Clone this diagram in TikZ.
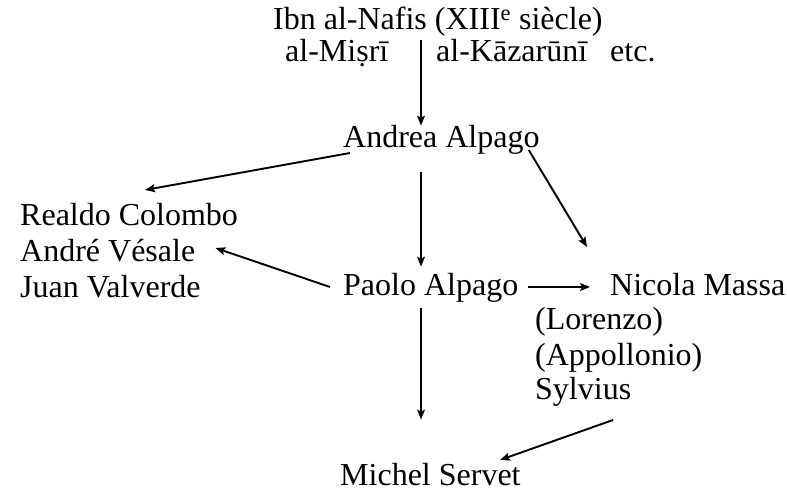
\documentclass[tikz,border=0pt]{standalone}
\usepackage{fontspec}
\setmainfont{Liberation Serif}
\usetikzlibrary{arrows.meta}

\begin{document}
\begin{tikzpicture}[x=1pt, y=1pt,
  who/.style  = {anchor=base west, inner sep=0pt, font=\fontsize{32}{38}\selectfont},
  arr/.style  = {-{Stealth[length=10pt, width=8pt, inset=2pt]}, line width=1.2pt},
  arrb/.style = {-{Stealth[length=10pt, width=8pt, inset=2pt]}, line width=1.9pt},
]
  \useasboundingbox (0,0) rectangle (787,492);

  \node[who] (nafis)      at (273,462) {Ibn al-Nafis (XIII\textsuperscript{e} siècle)};
  \node[who] (misri)      at (285,430) {al-Miṣrī};
  \node[who] (kazaruni)   at (436,430) {al-Kāzarūnī};
  \node[who] (etc)        at (610,430) {etc.};

  \node[who] (andrea)     at (343,344) {Andrea Alpago};

  \node[who] (realdo)     at (20,266)  {Realdo Colombo};
  \node[who] (andre)      at (20,230)  {André Vésale};
  \node[who] (juan)       at (20,194)  {Juan Valverde};

  \node[who] (paolo)      at (343,196) {Paolo Alpago};
  \node[who] (nicola)     at (610,196) {Nicola Massa};
  \node[who] (lorenzo)    at (535,162) {(Lorenzo)};
  \node[who] (appollonio) at (535,126) {(Appollonio)};
  \node[who] (sylvius)    at (535,92)  {Sylvius};

  \node[who] (michel)     at (340,6)   {Michel Servet};

  \coordinate (stem) at (421,0);

  \draw[arr]  (stem |- misri.north) -- (stem |- andrea.north);
  \draw[arr,shorten <=17pt, shorten >=7pt] (stem |- andrea.south) -- (stem |- paolo.north);
  \draw[arr,shorten <=5pt, shorten >=44pt] (stem |- paolo.south) -- (stem |- michel.north);

  \draw[arrb] ([xshift=7,yshift=-5]andrea.base west)  -- ([xshift=125,yshift=36]realdo.base west);
  \draw[arrb] ([xshift=-11,yshift=-2]andrea.base east) -- ([xshift=-23,yshift=49]nicola.base west);
  \draw[arrb] ([xshift=-13,yshift=9]paolo.base west)  -- ([xshift=20,yshift=14]andre.base east);
  \draw[arr]  ([xshift=9,yshift=9]paolo.base east)    -- ([xshift=-20,yshift=9]nicola.base west);
  \draw[arrb] ([xshift=78,yshift=-20]sylvius.base west) -- ([xshift=160,yshift=26]michel.base west);
\end{tikzpicture}
\end{document}
